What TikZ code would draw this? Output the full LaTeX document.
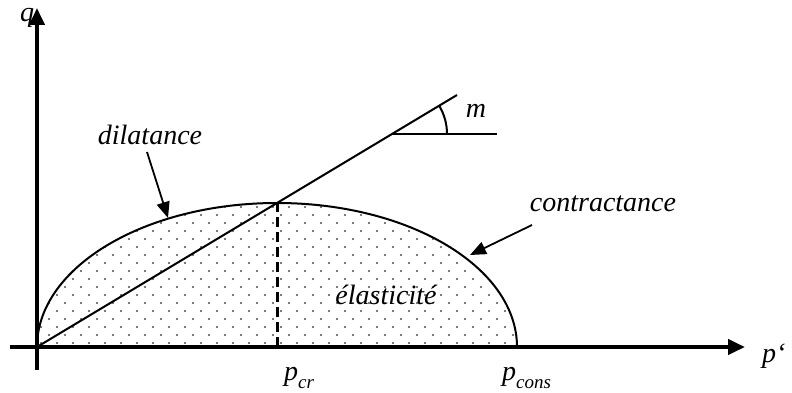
\documentclass[tikz,border=0pt]{standalone}
\usepackage{fontspec}
\setmainfont{Liberation Serif}
\usetikzlibrary{arrows.meta}
\newcommand{\subtxt}[1]{\raisebox{-0.28em}{\fontsize{19}{20}\selectfont #1}}
\begin{document}
\begin{tikzpicture}[x=1pt,y=1pt,
  lbl/.style={font=\fontsize{28}{30}\selectfont\itshape, inner sep=0pt},
  axisline/.style={line width=4pt,-{Triangle[length=17pt,width=15pt]}},
  pointer/.style={line width=1.8pt,-{Triangle[length=16pt,width=13pt]}},
  curve/.style={line width=2pt},
  dotfill/.style={fill=black!70}]
\useasboundingbox (0,0) rectangle (792,392);
% dotted region
\begin{scope}
\clip (37,45) arc[start angle=180,end angle=0,x radius=240pt,y radius=144pt] -- cycle;
\foreach \j in {0,...,18} {
  \foreach \i in {0,...,31} {
    \fill[dotfill] ({37+8*mod(\j,2)+16*\i+4}, {45+4+8*\j}) circle (1.2pt);
  }
}
\end{scope}
% named points
\coordinate (O) at (37,45);
\coordinate (ybot) at (37,22);
\coordinate (ytop) at (37,384);
\coordinate (xleft) at (10,45);
\coordinate (xright) at (745,45);
\coordinate (T) at (277,189);
\coordinate (Tb) at (277,45);
\coordinate (E) at (457,297);
\coordinate (H0) at (392,258);
\coordinate (H1) at (497,258);
\coordinate (dilA) at (147,240);
\coordinate (dilB) at (168,174);
\coordinate (conA) at (532,167);
\coordinate (conB) at (470,137);
% ellipse and lines
\draw[curve] (O) arc[start angle=180,end angle=0,x radius=240pt,y radius=144pt];
\draw[line width=3pt, dash pattern=on 10pt off 5pt] (Tb) -- (T);
\draw[curve] (O) -- (E);
\draw[curve] (H0) -- (H1);
\draw[curve] ([shift={(0:55pt)}]H0) arc[start angle=0,end angle=31,radius=55pt];
% axes
\draw[axisline] (xleft) -- (xright);
\draw[axisline] (ybot) -- (ytop);
% labels
\node[lbl] (q) at (27,374) {q};
\node[lbl, anchor=west] (pp) at (762,36) {p‘};
\node[lbl] (m) at (476,281) {m};
\node[lbl] (dil) at (150,257) {dilatance};
\node[lbl] (con) at (603,188) {contractance};
\node[lbl] (ela) at (386,97) {élasticité};
\node[lbl, anchor=west] (pcr) at (284,14) {p\subtxt{cr}};
\node[lbl, anchor=west] (pcons) at (502,14) {p\subtxt{cons}};
% pointers
\draw[pointer] (dilA) -- (dilB);
\draw[pointer] (conA) -- (conB);
\end{tikzpicture}
\end{document}
